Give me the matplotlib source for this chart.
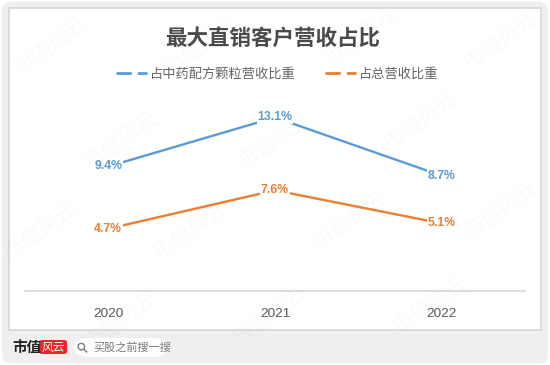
import matplotlib.pyplot as plt
from matplotlib.lines import Line2D
from matplotlib.patches import FancyBboxPatch, Rectangle

plt.rcParams['font.family'] = ['Noto Sans CJK SC', 'DejaVu Sans']

years = ['2020', '2021', '2022']
tcm_share = [9.4, 13.1, 8.7]     # 占中药配方颗粒营收比重
total_share = [4.7, 7.6, 5.1]    # 占总营收比重
series_names = ['占中药配方颗粒营收比重', '占总营收比重']

blue = '#5b9bd5'
orange = '#ed7d31'
W, H = 550, 365


def fx(px):
    return px / W


def fy(py):
    return 1 - py / H


fig = plt.figure(figsize=(5.5, 3.65), dpi=100, facecolor='white')

# grey card behind everything, white chart panel on top
fig.patches.append(FancyBboxPatch((0.004, 0.004), 0.992, 0.992,
                                  boxstyle='round,pad=0,rounding_size=0.02',
                                  transform=fig.transFigure, facecolor='#efefef',
                                  edgecolor='none', zorder=0))
fig.patches.append(Rectangle((fx(9), fy(330)), fx(532), 322 / H,
                             transform=fig.transFigure, facecolor='white',
                             edgecolor='#d6d6d6', linewidth=1.2, zorder=1))

ax = fig.add_axes([fx(25), fy(291), fx(500), 185.5 / H])
ax.set_facecolor('none')
ax.set_zorder(2)

x = list(range(len(years)))
ax.plot(x, tcm_share, color=blue, linewidth=1.7, solid_capstyle='round')
ax.plot(x, total_share, color=orange, linewidth=1.7, solid_capstyle='round')

for vals, c in [(tcm_share, blue), (total_share, orange)]:
    for i, v in enumerate(vals):
        ax.text(i, v, f'{v}%', ha='center', va='center', color=c,
                fontsize=8.8, fontweight='bold', family='Liberation Sans',
                bbox=dict(facecolor='white', edgecolor='none', pad=0.6))

ax.set_xlim(-0.5, 2.5)
ax.set_ylim(0, 14)
ax.set_xticks(x)
ax.set_xticklabels(years, fontsize=9.7, color='#595959', family='Liberation Sans')
ax.tick_params(axis='x', length=0, pad=12)
ax.set_yticks([])
for s in ['top', 'left', 'right']:
    ax.spines[s].set_visible(False)
ax.spines['bottom'].set_color('#d9d9d9')
ax.spines['bottom'].set_linewidth(1.3)

fig.text(fx(273), fy(38), '最大直销客户营收占比', ha='center', va='center',
         fontsize=15.5, fontweight='bold', color='#4a4a4a', zorder=5)

handles = [Line2D([], [], color=blue, linestyle=(0, (5.5, 2.2)), linewidth=2),
           Line2D([], [], color=orange, linestyle=(0, (5.5, 2.2)), linewidth=2)]
fig.legend(handles, series_names, loc='center', bbox_to_anchor=(fx(277), fy(74)),
           ncol=2, frameon=False, fontsize=9.5, labelcolor='#666666',
           handlelength=2.4, handletextpad=0.2, columnspacing=2.2)

# watermark
marks = [(50, 45), (200, 45), (360, 35), (500, 40), (120, 140), (275, 140),
         (420, 120), (40, 230), (190, 230), (350, 220), (500, 210),
         (120, 320), (270, 315), (430, 305)]
for mx, my in marks:
    fig.text(fx(mx), fy(my), '市值风云', ha='center', va='center', rotation=35,
             fontsize=15, fontweight='light', color='#808080', alpha=0.04,
             zorder=6)

# bottom strip: logo and search box
fig.text(fx(12), fy(347), '市值', ha='left', va='center', fontsize=10.5,
         fontweight='bold', color='#222222', zorder=5)
fig.patches.append(FancyBboxPatch((fx(39), fy(354)), fx(28), 14 / H,
                                  boxstyle='round,pad=0,rounding_size=0.006',
                                  transform=fig.transFigure, facecolor='#e8262c',
                                  edgecolor='none', zorder=4))
fig.text(fx(53), fy(347), '风云', ha='center', va='center', fontsize=8.5,
         color='white', style='italic', zorder=5)
fig.patches.append(FancyBboxPatch((fx(72), fy(357)), fx(97), 19 / H,
                                  boxstyle='round,pad=0,rounding_size=0.03',
                                  transform=fig.transFigure, facecolor='white',
                                  edgecolor='none', zorder=4,
                                  mutation_aspect=W / H))
fig.text(fx(83), fy(347), '⚲', ha='center', va='center', fontsize=10,
         color='#666666', rotation=45, family='DejaVu Sans', zorder=5)
fig.text(fx(93), fy(347), '买股之前搜一搜', ha='left', va='center', fontsize=8,
         color='#777777', zorder=5)

fig.savefig('out.png', dpi=100, facecolor=fig.get_facecolor())
